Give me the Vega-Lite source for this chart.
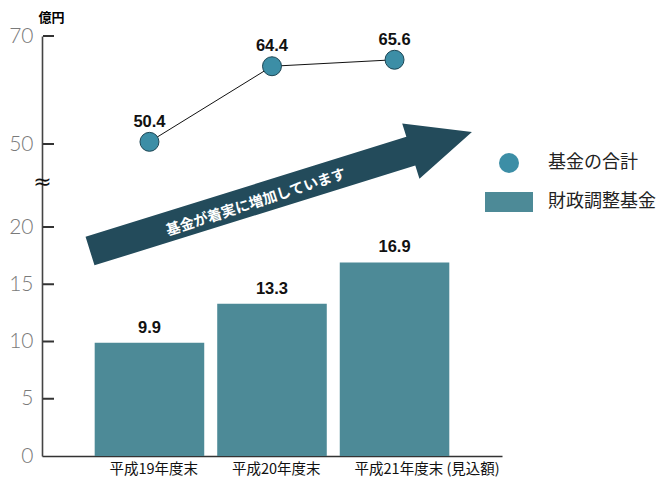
{
  "$schema": "https://vega.github.io/schema/vega-lite/v6.json",
  "width": 460,
  "height": 420,
  "autosize": "none",
  "padding": {"left": 42, "top": 36, "right": 169, "bottom": 23},
  "background": "white",
  "config": {"view": {"stroke": null}, "font": "Noto Sans CJK JP"},
  "datasets": {
    "fund": [
      {"year": "平成19年度末", "series": "財政調整基金", "value": 9.9},
      {"year": "平成20年度末", "series": "財政調整基金", "value": 13.3},
      {"year": "平成21年度末 (見込額)", "series": "財政調整基金", "value": 16.9}
    ],
    "total": [
      {"year": "平成19年度末", "series": "基金の合計", "value": 50.4},
      {"year": "平成20年度末", "series": "基金の合計", "value": 64.4},
      {"year": "平成21年度末 (見込額)", "series": "基金の合計", "value": 65.6}
    ],
    "arrow": [
      {"year": "平成20年度末", "value": 31.8, "textValue": 30.55, "label": "基金が着実に増加しています"}
    ],
    "yticks": [
      {"tick": 5}, {"tick": 10}, {"tick": 15}, {"tick": 20}, {"tick": 50}, {"tick": 70}
    ]
  },
  "layer": [
    {
      "data": {"name": "fund"},
      "mark": {"type": "bar", "opacity": 1},
      "encoding": {
        "x": {
          "field": "year", "type": "nominal", "sort": null,
          "scale": {"domain": ["平成19年度末", "平成20年度末", "平成21年度末 (見込額)"], "paddingInner": 0.106, "paddingOuter": 0.43},
          "axis": {"title": null, "ticks": false, "tickSize": 0, "labelPadding": 6, "labelAlign": "left", "labelOffset": -40, "labelAngle": 0, "labelFontSize": 14.5, "labelColor": "#111", "labelFont": "Noto Sans CJK JP", "domainColor": "#333", "domainWidth": 1.6, "grid": false}
        },
        "y": {
          "field": "value", "type": "quantitative",
          "scale": {"domain": [0, 20, 50, 70], "range": [420, 191, 108, 0], "nice": false},
          "axis": {"orient": "left", "values": [0, 5, 10, 15, 20, 50, 70], "ticks": false, "tickSize": 0, "labelPadding": 9, "labelFont": "Lato", "labelFontWeight": 300, "labelFontSize": 21, "labelColor": "#7a7a7a", "domainColor": "#444", "domainWidth": 1.6, "grid": false, "labelFlush": false, "labelOverlap": false, "title": "億円", "titleAngle": 0, "titleX": 9, "titleY": -19, "titleAlign": "center", "titleBaseline": "middle", "titleFontSize": 13, "titleFontWeight": "bold", "titleColor": "#000", "titleFont": "Noto Sans CJK JP"}
        },
        "color": {
          "field": "series", "type": "nominal",
          "scale": {"domain": ["基金の合計", "財政調整基金"], "range": ["#3c8ea6", "#4d8a97"]},
          "legend": {"orient": "none", "legendX": 457, "legendY": 117, "title": null, "symbolSize": 400, "labelFontSize": 18, "labelFont": "Noto Sans CJK JP", "labelColor": "#222", "labelOffset": 29, "rowPadding": 19, "padding": 0, "symbolStrokeWidth": 0, "symbolOpacity": 1}
        }
      }
    },
    {
      "data": {"name": "yticks"},
      "mark": {"type": "rule", "stroke": "#333333", "strokeWidth": 2, "opacity": 1},
      "encoding": {
        "y": {"field": "tick", "type": "quantitative", "axis": null},
        "x": {"value": 1},
        "x2": {"value": 12}
      }
    },
    {
      "data": {"name": "fund"},
      "mark": {"type": "text", "dy": -15, "baseline": "middle", "align": "center", "font": "Liberation Sans", "fontWeight": "bold", "fontSize": 16.5, "color": "#111"},
      "encoding": {
        "x": {"field": "year", "type": "nominal", "sort": null},
        "y": {"field": "value", "type": "quantitative", "axis": null},
        "text": {"field": "value", "type": "quantitative", "format": ".1f"}
      }
    },
    {
      "data": {"name": "total"},
      "mark": {"type": "line", "color": "#111", "strokeWidth": 1},
      "encoding": {
        "x": {"field": "year", "type": "nominal", "sort": null},
        "y": {
          "field": "value", "type": "quantitative",
          "axis": {"orient": "right", "offset": -460, "values": [36.3], "domain": false, "ticks": false, "tickSize": 0, "labelExpr": "'≈'", "labelPadding": 0, "labelAlign": "center", "labelBaseline": "middle", "labelFontSize": 22, "labelColor": "#111", "labelFont": "DejaVu Sans", "labelFontWeight": "normal", "title": null, "grid": false, "labelFlush": false, "labelOverlap": false}
        }
      }
    },
    {
      "data": {"name": "total"},
      "mark": {"type": "point", "filled": true, "size": 360, "stroke": "#1d4654", "strokeWidth": 1, "opacity": 1},
      "encoding": {
        "x": {"field": "year", "type": "nominal", "sort": null},
        "y": {"field": "value", "type": "quantitative", "axis": null},
        "color": {
          "field": "series", "type": "nominal",
          "legend": {"orient": "none", "legendX": 457, "legendY": 117, "title": null, "symbolSize": 400, "labelFontSize": 18, "labelFont": "Noto Sans CJK JP", "labelColor": "#222", "labelOffset": 29, "rowPadding": 19, "padding": 0, "symbolStrokeWidth": 0, "symbolOpacity": 1}
        },
        "shape": {
          "field": "series", "type": "nominal",
          "scale": {"domain": ["基金の合計", "財政調整基金"], "range": ["circle", "M-2.4,-1L2.4,-1L2.4,1L-2.4,1Z"]},
          "legend": {"orient": "none", "legendX": 457, "legendY": 117, "title": null, "symbolSize": 400, "labelFontSize": 18, "labelFont": "Noto Sans CJK JP", "labelColor": "#222", "labelOffset": 29, "rowPadding": 19, "padding": 0, "symbolStrokeWidth": 0, "symbolOpacity": 1}
        }
      }
    },
    {
      "data": {"name": "total"},
      "mark": {"type": "text", "dy": -20, "baseline": "middle", "align": "center", "font": "Liberation Sans", "fontWeight": "bold", "fontSize": 16.5, "color": "#111"},
      "encoding": {
        "x": {"field": "year", "type": "nominal", "sort": null},
        "y": {"field": "value", "type": "quantitative", "axis": null},
        "text": {"field": "value", "type": "quantitative", "format": ".1f"}
      }
    },
    {
      "data": {"name": "arrow"},
      "mark": {"type": "point", "shape": "M-1.906,-0.15L1.454,-0.15L1.454,-0.29L2.094,0L1.454,0.29L1.454,0.15L-1.906,0.15Z", "size": 40000, "angle": 342.7, "filled": true, "color": "#234b5b", "opacity": 1, "strokeWidth": 0},
      "encoding": {
        "x": {"field": "year", "type": "nominal", "sort": null},
        "y": {"field": "value", "type": "quantitative", "axis": null}
      }
    },
    {
      "data": {"name": "arrow"},
      "mark": {"type": "text", "angle": 342, "dx": -16.7, "baseline": "middle", "align": "center", "font": "Noto Sans CJK JP", "fontWeight": "bold", "fontSize": 14.5, "color": "#ffffff"},
      "encoding": {
        "x": {"field": "year", "type": "nominal", "sort": null},
        "y": {"field": "textValue", "type": "quantitative", "axis": null},
        "text": {"field": "label", "type": "nominal"}
      }
    }
  ],
  "resolve": {"axis": {"y": "independent"}}
}
